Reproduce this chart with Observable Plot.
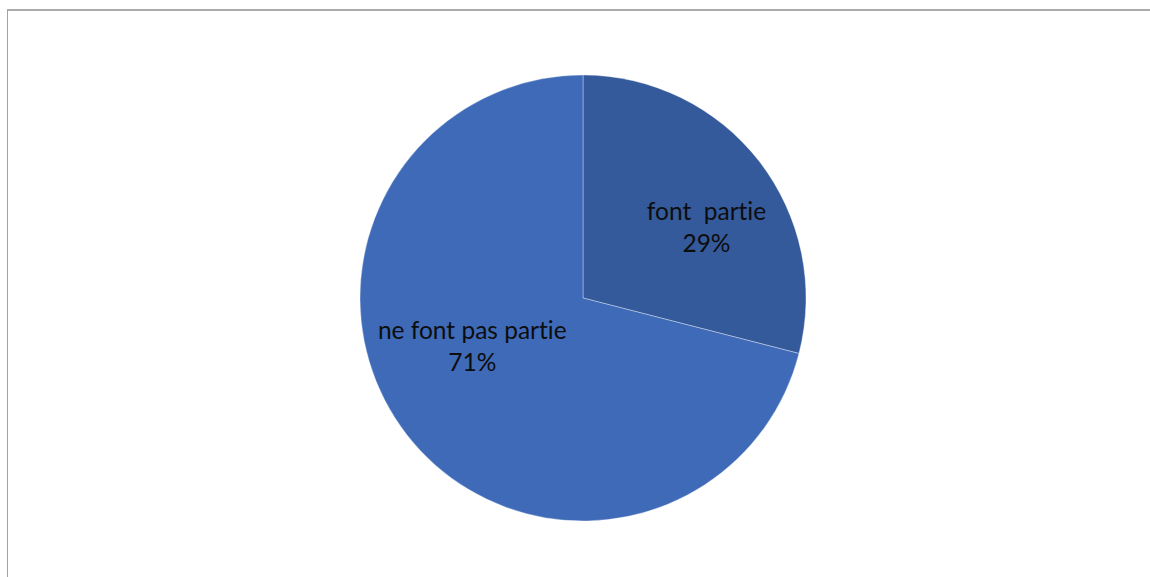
<!DOCTYPE html>
<html>
<head>
<meta charset="utf-8">
<script src="https://cdn.jsdelivr.net/npm/d3@7"></script>
<script src="https://cdn.jsdelivr.net/npm/@observablehq/plot@0.6"></script>
<style>
  html, body { margin: 0; padding: 0; background: #fff; overflow: hidden; }
  #wrap { position: relative; width: 1150px; height: 577px; }
  #frame { position: absolute; left: 7px; top: 9px; width: 1200px; height: 700px;
           border-left: 1px solid #a3a3a3; border-top: 2px solid #ababab; box-sizing: border-box; }
  #chart { position: absolute; left: 0; top: 0; }
  #chart text { white-space: pre; font-variant-ligatures: none; font-feature-settings: "liga" 0, "clig" 0; }
</style>
</head>
<body>
<div id="wrap"><div id="frame"></div><div id="chart"></div></div>
<script>
// Data
const categories = ["font  partie", "ne font pas partie"];
const values = [29, 71];
const colors = ["#345a9b", "#3e6ab8"];

// Layout of data labels (polar: angle in degrees clockwise from 12 o'clock, radius as fraction of pie radius)
const labelLayout = [
  {angle: 59.5, r: 0.64},
  {angle: 247.5, r: 0.54}
];

const data = categories.map((c, i) => ({category: c, value: values[i]}));
const total = d3.sum(values);
const pie = d3.pie().value(d => d.value).sort(null)(data);

const labels = data.map((d, i) => {
  const a = labelLayout[i].angle * Math.PI / 180;
  return {
    x: labelLayout[i].r * Math.sin(a),
    y: labelLayout[i].r * Math.cos(a),
    text: `${d.category}\n${Math.round(d.value / total * 100)}%`
  };
});

const cx = 583, cy = 298, R = 223;

const pieMark = (index, scales, values_, dimensions, context) => {
  const x0 = scales.x(0), y0 = scales.y(0);
  const r = scales.x(1) - x0;
  const arc = d3.arc().innerRadius(0).outerRadius(r);
  const g = d3.create("svg:g").attr("transform", `translate(${x0},${y0})`);
  g.selectAll("path").data(pie).join("path")
    .attr("d", arc)
    .attr("fill", (d, i) => colors[i])
    .attr("stroke", "rgba(255,255,255,0.35)")
    .attr("stroke-width", 1);
  return g.node();
};

const chart = Plot.plot({
  width: 1150,
  height: 577,
  margin: 0,
  x: {type: "linear", domain: [-1, 1], range: [cx - R, cx + R], axis: null},
  y: {type: "linear", domain: [-1, 1], range: [cy + R, cy - R], axis: null},
  style: {background: "transparent", fontFamily: "Lato, 'Open Sans', sans-serif"},
  marks: [
    pieMark,
    Plot.text(labels, {
      x: "x", y: "y", text: "text",
      fontSize: 24.5, lineHeight: 1.3, fill: "#0d0d0d",
      textAnchor: "middle"
    })
  ]
});
document.getElementById("chart").appendChild(chart);
</script>
</body>
</html>
